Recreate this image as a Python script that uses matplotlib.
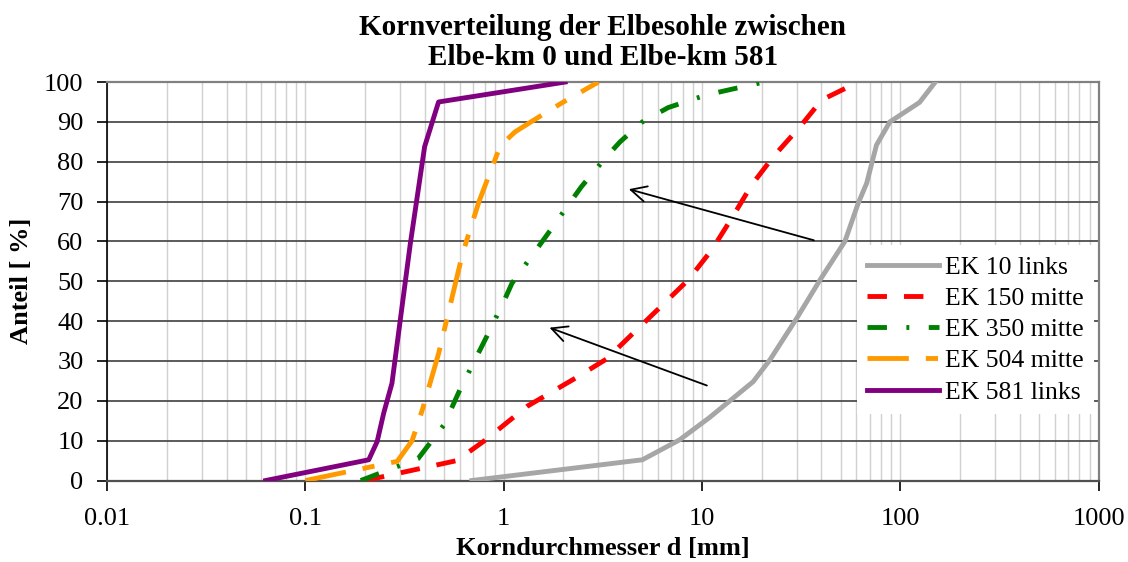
import matplotlib.pyplot as plt
from matplotlib.ticker import FixedLocator, FixedFormatter, LogLocator, NullFormatter

plt.rcParams['font.family'] = ['Liberation Serif', 'DejaVu Serif']

# Sieve curves: grain diameter [mm] vs. cumulative share [%]
ek10_d = [0.69, 5.0, 7.7, 10.9, 18.1, 22.0, 30.0, 39.3, 52.5, 61.3, 67.6, 75.8, 88.5, 125, 150]
ek10_p = [0, 5.2, 10.2, 15.8, 24.8, 30.3, 40.7, 50.3, 60.0, 69.6, 74.6, 84.2, 90.0, 94.9, 100]

ek150_d = [0.2, 0.58, 0.8, 1.31, 2.3, 3.3, 4.5, 6.3, 8.5, 11.2, 14.1, 17.8, 22.9, 31.2, 40.1, 61.3]
ek150_p = [0, 5.0, 10.0, 18.6, 25.7, 30.5, 37.0, 44.0, 50.3, 57.9, 65.8, 74.2, 81.3, 88.8, 95.5, 100]

ek350_d = [0.19, 0.37, 0.5, 0.6, 0.82, 1.0, 1.1, 1.65, 2.46, 3.3, 3.86, 5.0, 6.75, 10.4, 13.0, 20.5]
ek350_p = [0, 5.5, 14.0, 22.7, 36.1, 44.9, 49.5, 61.6, 73.7, 81.3, 85.0, 90.0, 93.6, 96.7, 97.8, 100]

ek504_d = [0.1, 0.29, 0.345, 0.39, 0.47, 0.62, 0.75, 0.96, 1.14, 1.65, 2.0, 3.0]
ek504_p = [0, 4.8, 10.0, 18.0, 32.0, 57.0, 70.0, 84.0, 87.5, 92.5, 95.0, 100]

ek581_d = [0.063, 0.2085, 0.23, 0.248, 0.273, 0.338, 0.399, 0.469, 2.04]
ek581_p = [0, 5.2, 9.8, 16.9, 24.4, 59.5, 83.8, 95.0, 100]

x_ticks = [0.01, 0.1, 1, 10, 100, 1000]
x_labels = ['0.01', '0.1', '1', '10', '100', '1000']

fig = plt.figure(figsize=(11.28, 5.62), dpi=100)
ax = fig.add_axes([0.095, 0.145, 0.879, 0.709])

lw = 3.5
ax.plot(ek10_d, ek10_p, color='#A6A6A6', lw=lw, label='EK 10 links', zorder=3)
ax.plot(ek150_d, ek150_p, color='#FF0000', lw=lw, ls=(0, (4, 3.5)), label='EK 150 mitte', zorder=3)
ax.plot(ek350_d, ek350_p, color='#008000', lw=lw, ls=(0, (4, 4, 0.6, 4)), label='EK 350 mitte', zorder=3)
ax.plot(ek504_d, ek504_p, color='#FF9900', lw=lw, ls=(0, (8.5, 3.5, 2.5, 3.5)), label='EK 504 mitte', zorder=3)
ax.plot(ek581_d, ek581_p, color='#800080', lw=lw, label='EK 581 links', zorder=3)

# arrows showing the trend from upstream to downstream
arrow = dict(arrowstyle='->', color='black', lw=1.3, mutation_scale=28)
ax.annotate('', xy=(4.14, 73.3), xytext=(37.8, 60.1), arrowprops=arrow, zorder=4)
ax.annotate('', xy=(1.65, 38.6), xytext=(10.9, 23.6), arrowprops=arrow, zorder=4)

ax.set_xscale('log')
ax.set_xlim(0.01, 1000)
ax.set_ylim(0, 100)
ax.xaxis.set_major_locator(FixedLocator(x_ticks))
ax.xaxis.set_major_formatter(FixedFormatter(x_labels))
ax.xaxis.set_minor_locator(LogLocator(base=10, subs=range(2, 10)))
ax.xaxis.set_minor_formatter(NullFormatter())
ax.set_yticks(range(0, 101, 10))

ax.grid(True, which='major', axis='y', color='#404040', lw=1.2, zorder=1)
ax.grid(True, which='both', axis='x', color='#D0D0D0', lw=1.0, zorder=0)
ax.set_axisbelow(True)

ax.tick_params(axis='both', which='major', direction='out', length=7, width=1.2,
               labelsize=19, color='black')
ax.tick_params(axis='x', which='major', pad=13)
ax.tick_params(axis='x', which='minor', length=0)
ax.tick_params(axis='y', pad=10)

for side in ['top', 'right']:
    ax.spines[side].set_color('#808080')
    ax.spines[side].set_linewidth(1.6)
ax.spines['bottom'].set_color('#505050')
ax.spines['bottom'].set_linewidth(1.6)
ax.spines['left'].set_color('black')
ax.spines['left'].set_linewidth(1.2)

ax.set_title('Kornverteilung der Elbesohle zwischen\nElbe-km 0 und Elbe-km 581',
             fontsize=21, fontweight='bold', pad=12, linespacing=1.15)
ax.set_xlabel('Korndurchmesser d [mm]', fontsize=19, fontweight='bold', labelpad=5)
ax.set_ylabel('Anteil [ %]', fontsize=19, fontweight='bold', labelpad=8)

leg = ax.legend(loc='upper left', bbox_to_anchor=(0.756, 0.59), fontsize=18.5,
                frameon=True, fancybox=False, framealpha=1, facecolor='white',
                edgecolor='none', borderaxespad=0, handlelength=2.8,
                handletextpad=0.25, labelspacing=0.32, borderpad=0.4)
leg.set_zorder(5)

fig.savefig('out.png', dpi=100)
